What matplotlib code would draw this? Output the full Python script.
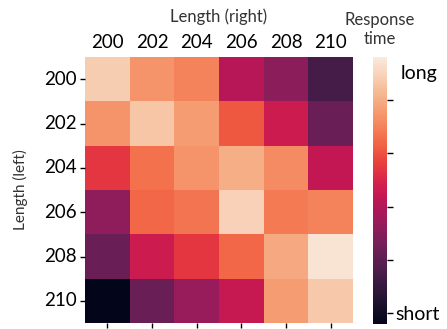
import matplotlib
matplotlib.use("Agg")
import matplotlib.pyplot as plt
import seaborn as sns
import numpy as np

labels_right = ["200", "202", "204", "206", "208", "210"]
labels_left = ["200", "202", "204", "206", "208", "210"]
row_200 = [0.92, 0.78, 0.74, 0.45, 0.35, 0.18]
row_202 = [0.78, 0.90, 0.80, 0.65, 0.50, 0.27]
row_204 = [0.58, 0.70, 0.78, 0.84, 0.76, 0.48]
row_206 = [0.36, 0.68, 0.71, 0.93, 0.72, 0.74]
row_208 = [0.27, 0.50, 0.58, 0.68, 0.83, 0.98]
row_210 = [0.00, 0.27, 0.38, 0.49, 0.80, 0.91]
cbar_ticks = [0.04, 0.24, 0.44, 0.64, 0.84]

data = np.array([row_200, row_202, row_204, row_206, row_208, row_210])

plt.rcParams['font.family'] = ['Lato', 'DejaVu Sans']
fig = plt.figure(figsize=(4.47, 3.29), dpi=100)
W, H = 447, 329
ax = fig.add_axes([85/W, 1-323/H, 268/W, 266/H])
cax = fig.add_axes([373/W, 1-324/H, 14/W, 267/H])

sns.heatmap(data, ax=ax, cbar_ax=cax, cmap="rocket", vmin=0, vmax=1,
            xticklabels=labels_right, yticklabels=labels_left)
ax.xaxis.set_label_position('top')
ax.tick_params(axis='x', top=False, labeltop=True, bottom=True, labelbottom=False,
               labelsize=13.5, length=3.8, width=1, pad=0.5)
ax.tick_params(axis='y', labelsize=13.5, length=3.8, width=1, rotation=0, pad=2)
ax.set_xlabel("Length (right)", fontsize=12, color='#333333', labelpad=9)
ax.set_ylabel("Length (left)", fontsize=11, color='#333333', labelpad=12)

cax.set_yticks(cbar_ticks)
cax.set_yticklabels(["short", "", "", "", ""], fontsize=14)
cax.tick_params(length=4, width=1, pad=2)
cax.text(2.0, 0.94, "long", transform=cax.transAxes, fontsize=14, va='center', ha='left')
cax.set_title("Response\ntime", fontsize=12, color='#333333', pad=9, linespacing=1.25)

fig.savefig("out.png", dpi=100)
